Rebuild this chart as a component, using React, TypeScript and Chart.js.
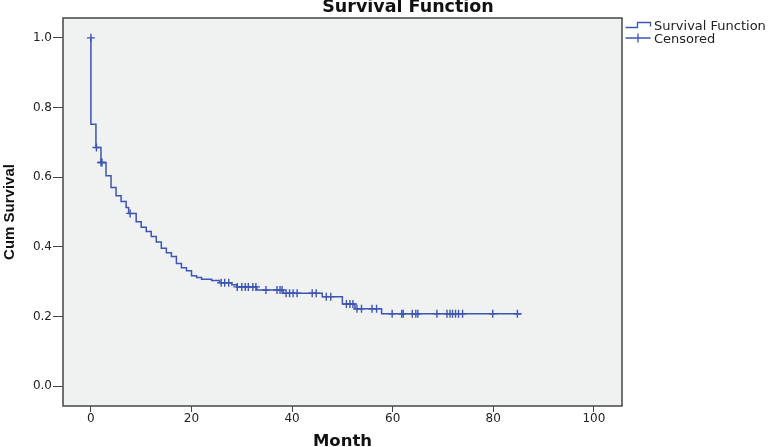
import React, { useEffect, useRef } from "react";
import { Chart, registerables } from "chart.js";

Chart.register(...registerables);

// Kaplan-Meier step function: event times (months) and survival after each event
const KM_TIME = [0, 0, 1, 2, 3, 4, 5, 6, 7, 7.5, 9, 10, 11, 12, 13, 14, 15, 16, 17, 18, 19, 20, 21, 22, 24, 25.6, 28, 29, 33, 38.2, 46, 50, 52.5, 57.8, 85.6];
const KM_SURV = [1.0, 0.752, 0.685, 0.642, 0.604, 0.57, 0.547, 0.53, 0.513, 0.496, 0.472, 0.456, 0.444, 0.43, 0.414, 0.396, 0.383, 0.372, 0.352, 0.34, 0.331, 0.317, 0.312, 0.307, 0.303, 0.297, 0.291, 0.285, 0.276, 0.267, 0.257, 0.236, 0.222, 0.208, 0.208];

// Censored observations
const CENS_TIME = [0, 1.1, 2.0, 2.2, 7.8, 25.9, 26.6, 27.4, 29.1, 30.0, 30.7, 31.3, 32.2, 32.8, 34.8, 37.0, 37.6, 38.0, 38.8, 39.5, 40.2, 41.0, 44.0, 44.8, 46.8, 47.7, 50.8, 51.5, 52.1, 52.9, 53.8, 55.9, 56.8, 59.9, 61.8, 62.1, 63.9, 64.6, 65.0, 68.8, 70.8, 71.4, 71.9, 72.5, 73.1, 73.9, 79.9, 84.8];
const CENS_SURV = [1.0, 0.685, 0.642, 0.642, 0.496, 0.297, 0.297, 0.297, 0.285, 0.285, 0.285, 0.285, 0.285, 0.285, 0.276, 0.276, 0.276, 0.276, 0.267, 0.267, 0.267, 0.267, 0.267, 0.267, 0.257, 0.257, 0.236, 0.236, 0.236, 0.222, 0.222, 0.222, 0.222, 0.208, 0.208, 0.208, 0.208, 0.208, 0.208, 0.208, 0.208, 0.208, 0.208, 0.208, 0.208, 0.208, 0.208, 0.208];

const X_TICKS = [0, 20, 40, 60, 80, 100];
const Y_TICKS = [0, 0.2, 0.4, 0.6, 0.8, 1.0];
const X_RANGE = [-5.55, 105.6];
const Y_RANGE = [-0.057, 1.057];

const TITLE = "Survival Function";
const X_TITLE = "Month";
const Y_TITLE = "Cum Survival";
const LEGEND_LINE = "Survival Function";
const LEGEND_CENS = "Censored";

const BLUE = "#3d55b3";

const framePlugin = {
  id: "spssFrame",
  beforeDraw(chart: any) {
    const { ctx, chartArea: a } = chart;
    ctx.save();
    ctx.fillStyle = "#ffffff";
    ctx.fillRect(0, 0, chart.width, chart.height);
    ctx.fillStyle = "#f0f1f1";
    ctx.fillRect(a.left, a.top, a.right - a.left, a.bottom - a.top);
    ctx.restore();
  },
  beforeDatasetsDraw(chart: any) {
    const { ctx, chartArea: a } = chart;
    ctx.save();
    ctx.strokeStyle = "#505050";
    ctx.lineWidth = 1.6;
    ctx.strokeRect(a.left, a.top, a.right - a.left, a.bottom - a.top);
    ctx.restore();
  },
  afterDraw(chart: any) {
    const { ctx, chartArea: a } = chart;
    ctx.save();
    // title
    ctx.fillStyle = "#111";
    ctx.font = 'bold 17.5px "DejaVu Sans"';
    ctx.textAlign = "center";
    ctx.textBaseline = "alphabetic";
    ctx.fillText(TITLE, 408, 12);

    // legend
    const lx = a.right + 3.5;
    ctx.strokeStyle = BLUE;
    ctx.lineWidth = 1.3;
    ctx.beginPath();
    ctx.moveTo(lx, 27.5);
    ctx.lineTo(lx + 12, 27.5);
    ctx.lineTo(lx + 12, 22.5);
    ctx.lineTo(lx + 25, 22.5);
    ctx.lineTo(lx + 25, 26.5);
    ctx.stroke();
    ctx.beginPath();
    ctx.moveTo(lx, 38);
    ctx.lineTo(lx + 25, 38);
    ctx.moveTo(lx + 12.5, 33.5);
    ctx.lineTo(lx + 12.5, 42.5);
    ctx.stroke();

    ctx.fillStyle = "#222";
    ctx.font = '13px "DejaVu Sans"';
    ctx.textAlign = "left";
    ctx.fillText(LEGEND_LINE, lx + 28.5, 30);
    ctx.fillText(LEGEND_CENS, lx + 28.5, 42.5);
    ctx.restore();
  },
};

export default function App() {
  const ref = useRef<HTMLCanvasElement | null>(null);

  useEffect(() => {
    if (!ref.current) return;
    const lineData = KM_TIME.map((t, i) => ({ x: t, y: KM_SURV[i] }));
    const censData = CENS_TIME.map((t, i) => ({ x: t, y: CENS_SURV[i] }));

    const chart = new Chart(ref.current, {
      type: "scatter",
      data: {
        datasets: [
          {
            label: LEGEND_LINE,
            data: lineData,
            showLine: true,
            stepped: true,
            borderColor: BLUE,
            backgroundColor: BLUE,
            borderWidth: 1.5,
            pointRadius: 0,
            fill: false,
          },
          {
            label: LEGEND_CENS,
            data: censData,
            showLine: false,
            pointStyle: "cross",
            pointRadius: 4,
            borderColor: BLUE,
            backgroundColor: BLUE,
            pointBorderWidth: 1.4,
            borderWidth: 1.4,
          },
        ],
      },
      options: {
        responsive: false,
        maintainAspectRatio: false,
        devicePixelRatio: 1,
        animation: false,
        layout: { padding: { top: 18, right: 146, bottom: 0, left: 0 } },
        plugins: {
          legend: { display: false },
          tooltip: { enabled: false },
          title: { display: false },
        },
        scales: {
          x: {
            type: "linear",
            min: X_RANGE[0],
            max: X_RANGE[1],
            afterBuildTicks: (s: any) => {
              s.ticks = X_TICKS.map((v) => ({ value: v }));
            },
            afterFit: (s: any) => {
              s.height = 41;
            },
            grid: { drawOnChartArea: false, drawTicks: true, tickLength: 6, color: "#444", lineWidth: 1 },
            border: { display: false },
            ticks: {
              padding: 0,
              color: "#222",
              autoSkip: false,
              maxRotation: 0,
              font: { family: "DejaVu Sans", size: 12 },
              callback: (v: any) => String(v),
            },
            title: {
              display: true,
              text: X_TITLE,
              color: "#111",
              padding: 0,
              font: { family: "DejaVu Sans", size: 16.5, weight: "bold", lineHeight: 0.66 },
            },
          },
          y: {
            type: "linear",
            min: Y_RANGE[0],
            max: Y_RANGE[1],
            afterBuildTicks: (s: any) => {
              s.ticks = Y_TICKS.map((v) => ({ value: v }));
            },
            afterFit: (s: any) => {
              s.width = 63;
            },
            grid: { drawOnChartArea: false, drawTicks: true, tickLength: 10, color: "#444", lineWidth: 1 },
            border: { display: false },
            ticks: {
              padding: 1,
              color: "#222",
              font: { family: "DejaVu Sans", size: 12 },
              callback: (v: any) => Number(v).toFixed(1),
            },
            title: {
              display: true,
              text: Y_TITLE,
              color: "#111",
              padding: { top: 2, bottom: 0 },
              font: { family: "Liberation Sans", size: 15, weight: "bold", lineHeight: 1 },
            },
          },
        },
      },
      plugins: [framePlugin],
    });
    return () => chart.destroy();
  }, []);

  return (
    <div style={{ position: "absolute", left: 0, top: 0, width: 768, height: 447, background: "#fff" }}>
      <canvas ref={ref} width={768} height={447} style={{ width: "768px", height: "447px", display: "block" }} />
    </div>
  );
}
